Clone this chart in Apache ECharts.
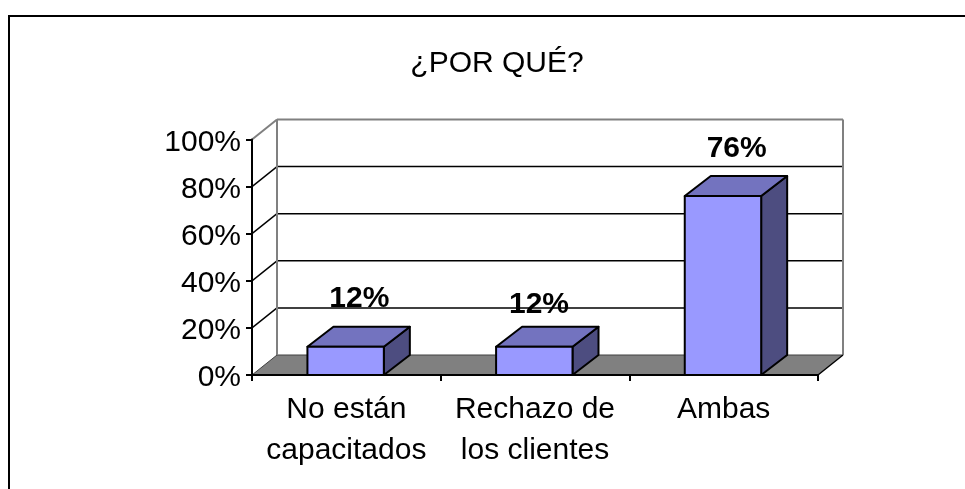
<!DOCTYPE html>
<html>
<head>
<meta charset="utf-8">
<style>
  html, body { margin: 0; padding: 0; background: #fff; }
  #chart { width: 965px; height: 489px; }
</style>
<script src="https://cdn.jsdelivr.net/npm/echarts@6/dist/echarts.min.js"></script>
</head>
<body>
<div id="chart"></div>
<script>
const titleText = "¿POR QUÉ?";
const categories = ["No están\ncapacitados", "Rechazo de\nlos clientes", "Ambas"];
const values = [12, 12, 76];
const valueLabels = ["12%", "12%", "76%"];
const yTicks = [0, 20, 40, 60, 80, 100];

const fontFamily = '"Liberation Sans", Arial, sans-serif';
// 3D depth of the floor and the bars, in px
const depthX = 25;
const depthY = 20;
// hand placed data labels, Excel does not center them exactly
const labelShift = [[0, -28], [-9, -22], [0, -27]];

const chart = echarts.init(document.getElementById("chart"));

function line(x1, y1, x2, y2, color, width) {
  return {
    type: "line",
    shape: { x1, y1, x2, y2 },
    style: { stroke: color, lineWidth: width },
  };
}

function poly(points, fill) {
  return {
    type: "polygon",
    shape: { points },
    style: { fill, stroke: "#000", lineWidth: 2, lineJoin: "round" },
  };
}

// back wall, floor and grid lines
function renderWall(params, api) {
  const x0 = params.coordSys.x;
  const x1 = x0 + params.coordSys.width;
  const y0 = api.coord([0, 0])[1];
  const top = api.coord([0, 100])[1];
  const children = [];
  children.push({
    type: "polygon",
    shape: {
      points: [[x0, y0], [x1, y0], [x1 + depthX, y0 - depthY], [x0 + depthX, y0 - depthY]],
    },
    style: { fill: "#808080" },
  });
  yTicks.forEach((t) => {
    const y = api.coord([0, t])[1];
    if (t > 0 && t < 100) {
      children.push(line(x0 + depthX, y - depthY, x1 + depthX, y - depthY, "#000", 1.5));
      children.push(line(x0, y, x0 + depthX, y - depthY, "#000", 1.5));
    }
  });
  children.push(line(x0 + depthX, y0 - depthY, x1 + depthX, y0 - depthY, "#404040", 1));
  children.push(line(x0, top, x0 + depthX, top - depthY, "#808080", 2));
  children.push(line(x0 + depthX, top - depthY, x1 + depthX, top - depthY, "#808080", 2));
  children.push(line(x0 + depthX, top - depthY, x0 + depthX, y0 - depthY, "#808080", 2));
  children.push(line(x1 + depthX, top - depthY, x1 + depthX, y0 - depthY, "#808080", 2));
  children.push(line(x0, y0, x0 + depthX, y0 - depthY, "#404040", 1));
  children.push(line(x1, y0, x1 + depthX, y0 - depthY, "#000", 1.5));
  return { type: "group", children };
}

function renderBar(params, api) {
  const i = api.value(0);
  const [cx, yTop] = api.coord([i, api.value(1)]);
  const yBase = api.coord([i, 0])[1];
  const w = api.size([1, 0])[0] * 0.405;
  const l = cx - w / 2 - 0.7;
  const r = cx + w / 2 - 0.7;
  const dx = depthX + 1;
  return {
    type: "group",
    children: [
      poly([[r, yBase], [r + dx, yBase - depthY], [r + dx, yTop - depthY], [r, yTop]], "#4D4D80"),
      poly([[l, yTop], [r, yTop], [r + dx, yTop - depthY], [l + dx, yTop - depthY]], "#7373BF"),
      poly([[l, yBase], [r, yBase], [r, yTop], [l, yTop]], "#9999FF"),
      {
        type: "text",
        x: cx + dx / 2 + labelShift[i][0],
        y: yTop - depthY + labelShift[i][1],
        style: {
          text: valueLabels[i],
          font: "bold 30px " + fontFamily,
          fill: "#000",
          align: "center",
          verticalAlign: "middle",
        },
      },
    ],
  };
}

const option = {
  animation: false,
  backgroundColor: "#fff",
  title: {
    text: titleText,
    left: 492,
    top: 44,
    textAlign: "center",
    textStyle: { fontFamily, fontSize: 30, fontWeight: "normal", color: "#000" },
  },
  grid: { left: 252, top: 139.5, width: 566, height: 235.5 },
  xAxis: {
    type: "category",
    data: categories,
    z: 5,
    axisLine: { lineStyle: { color: "#000", width: 2 } },
    axisTick: { show: true, length: 6, interval: 0, alignWithLabel: false, lineStyle: { color: "#000", width: 2 } },
    axisLabel: {
      fontFamily,
      fontSize: 30,
      lineHeight: 41,
      color: "#000",
      margin: 14,
      interval: 0,
    },
  },
  yAxis: {
    type: "value",
    min: 0,
    max: 100,
    interval: 20,
    z: 5,
    axisLine: { show: true, lineStyle: { color: "#000", width: 2 } },
    axisTick: { show: true, length: 6, lineStyle: { color: "#000", width: 2 } },
    splitLine: { show: false },
    axisLabel: {
      margin: 11,
      // rich token so the label can sit a little below its tick
      formatter: (v) => `{v|${v}%}`,
      rich: {
        v: { fontFamily, fontSize: 30, color: "#000", padding: [6, 0, 0, 0] },
      },
    },
  },
  graphic: [
    {
      type: "polyline",
      shape: { points: [[9, 489], [9, 16], [965, 16]] },
      style: { stroke: "#000", lineWidth: 2, fill: null },
      z: 10,
    },
  ],
  series: [
    { type: "custom", z: 1, renderItem: renderWall, data: [[0]], silent: true },
    {
      type: "custom",
      z: 3,
      renderItem: renderBar,
      encode: { x: 0, y: 1 },
      data: values.map((v, i) => [i, v]),
      silent: true,
    },
  ],
};

chart.setOption(option);
</script>
</body>
</html>
